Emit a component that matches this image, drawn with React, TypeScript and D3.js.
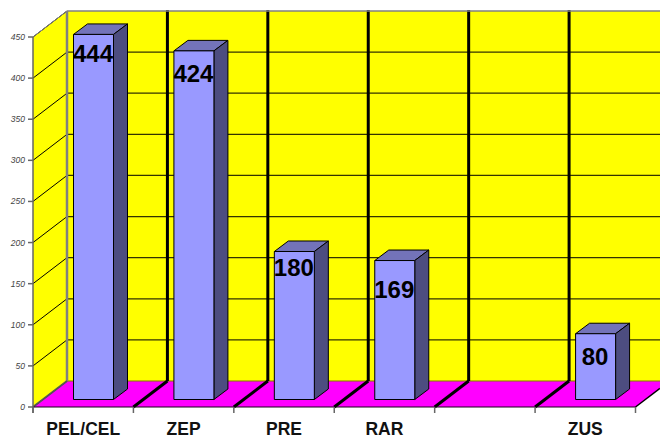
import React from 'react';
import * as d3 from 'd3';

const categories = ['PEL/CEL', 'ZEP', 'PRE', 'RAR', '', 'ZUS'];
const values = [444, 424, 180, 169, null, 80];
const yTicks = [0, 50, 100, 150, 200, 250, 300, 350, 400, 450];
// value labels do not sit at a fixed distance under the bar top in the original
const labelDrop = [28, 31.5, 24.5, 37, 0, 31.5];

const width = 660;
const height = 438;
// depth of the fake 3D box
const depthX = 34;
const depthY = 26;

const xScale = d3.scaleLinear().domain([0, categories.length]).range([33, 635.5]);
const yScale = d3.scaleLinear().domain([0, 450]).range([407, 37]);

export default function App() {
  const band = xScale(1) - xScale(0);
  const barW = 40;
  const barOffset = 40.5;
  // bars stand a bit in from the front edge of the floor
  const barLift = 7.5;
  const barDx = 14;
  const barDy = 10.5;
  const x0 = xScale(0);
  const xEnd = xScale(categories.length);
  const floorY = yScale(0);
  const backY = floorY - depthY;
  const topY = yScale(450) - depthY;
  const edges = d3.range(categories.length + 1);

  return (
    <svg
      width={width}
      height={height}
      style={{ position: 'absolute', left: 0, top: 0, background: '#fff', fontFamily: '"Liberation Sans", Arial, sans-serif' }}
    >
      {/* left wall */}
      <polygon
        points={`${x0},${floorY} ${x0 + depthX},${backY} ${x0 + depthX},${topY} ${x0},${yScale(450)}`}
        fill="#ffff00"
      />
      {/* back wall */}
      <rect x={x0 + depthX} y={topY} width={width - x0 - depthX} height={backY - topY} fill="#ffff00" />
      {/* floor */}
      <polygon
        points={`${x0},${floorY} ${x0 + depthX},${backY} ${width},${backY} ${width},${floorY - (width - xEnd) * depthY / depthX} ${xEnd},${floorY}`}
        fill="#ff00ff"
      />

      {/* grid lines */}
      {yTicks.map(t => (
        <g key={t} fill="none">
          <line x1={x0} y1={yScale(t)} x2={x0 + depthX} y2={yScale(t) - depthY} stroke="#000" strokeWidth={1} />
          {t > 0 && t < 450 && (
            <line x1={x0 + depthX} y1={yScale(t) - depthY} x2={width} y2={yScale(t) - depthY} stroke="#333300" strokeWidth={1.2} />
          )}
        </g>
      ))}
      <line x1={x0 + depthX} y1={backY} x2={width} y2={backY} stroke="#808000" strokeWidth={1.2} />

      {/* category dividers */}
      {edges.slice(1, -1).map(i => (
        <g key={i} stroke="#000" strokeWidth={3}>
          <line x1={xScale(i) + depthX} y1={topY - 1} x2={xScale(i) + depthX} y2={backY} />
          <line x1={xScale(i)} y1={floorY} x2={xScale(i) + depthX} y2={backY} />
        </g>
      ))}
      <line x1={xEnd} y1={floorY} x2={width} y2={floorY - (width - xEnd) * depthY / depthX} stroke="#000" strokeWidth={1.5} />

      {/* box outline */}
      <line x1={x0 + depthX} y1={topY} x2={width} y2={topY} stroke="#808080" strokeWidth={1.5} />
      <line x1={x0 + depthX} y1={topY} x2={x0 + depthX} y2={backY} stroke="#808080" strokeWidth={2.5} />
      <line x1={x0} y1={floorY} x2={x0 + depthX} y2={backY} stroke="#555" strokeWidth={2} />
      <line x1={x0} y1={floorY} x2={xEnd} y2={floorY} stroke="#1a001a" strokeWidth={1.2} />
      <line x1={x0} y1={yScale(450)} x2={x0 + depthX} y2={topY} stroke="#808080" strokeWidth={1} />

      {/* y axis */}
      <line x1={x0} y1={yScale(450)} x2={x0} y2={floorY + 6} stroke="#666" strokeWidth={1.5} />
      {yTicks.map(t => (
        <g key={t}>
          <line x1={x0 - 5} y1={yScale(t)} x2={x0} y2={yScale(t)} stroke="#666" strokeWidth={1.5} />
          <text x={x0 - 8} y={yScale(t) + 3} textAnchor="end" fontSize={8.5} fontStyle="italic" fill="#444">
            {t}
          </text>
        </g>
      ))}

      {/* x axis */}
      {edges.map(i => (
        <line key={i} x1={xScale(i)} y1={floorY} x2={xScale(i)} y2={floorY + 6} stroke="#666" strokeWidth={1.5} />
      ))}
      {categories.map((c, i) => (
        <text key={i} x={xScale(i) + band / 2} y={434.5} textAnchor="middle" fontSize={17.5} fontWeight="bold" fill="#111">
          {c}
        </text>
      ))}

      {/* bars */}
      {values.map((v, i) => {
        if (v == null) return null;
        const left = xScale(i) + barOffset;
        const right = left + barW;
        const top = yScale(v) - barLift;
        const bottom = yScale(0) - barLift;
        return (
          <g key={i} stroke="#000" strokeWidth={1} strokeLinejoin="round">
            <polygon
              points={`${left},${top} ${left + barDx},${top - barDy} ${right + barDx},${top - barDy} ${right},${top}`}
              fill="#7373b9"
            />
            <polygon
              points={`${right},${top} ${right + barDx},${top - barDy} ${right + barDx},${bottom - barDy} ${right},${bottom}`}
              fill="#4d4d80"
            />
            <rect x={left} y={top} width={barW} height={bottom - top} fill="#9999ff" />
          </g>
        );
      })}

      {/* value labels */}
      {values.map((v, i) => {
        if (v == null) return null;
        return (
          <text
            key={i}
            x={xScale(i) + barOffset + barW / 2 - 0.5}
            y={yScale(v) - barLift + labelDrop[i]}
            textAnchor="middle"
            fontSize={24}
            fontWeight="bold"
            fill="#000"
          >
            {v}
          </text>
        );
      })}
    </svg>
  );
}
